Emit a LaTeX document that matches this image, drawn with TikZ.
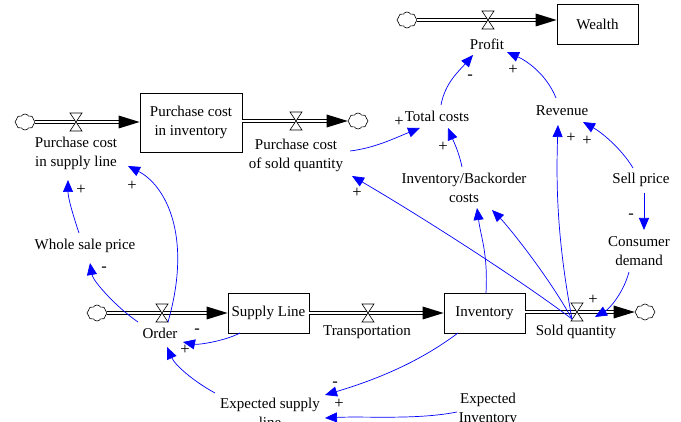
\documentclass[tikz,border=0pt]{standalone}
\usepackage{fontspec}
\setmainfont{Liberation Serif}
\usetikzlibrary{arrows.meta,shapes.symbols,calc}
\newcommand\flowarrow[2]{%
  \draw[pipe, shorten >=12pt] (#1) -- (#2);
  \fill (#2) -- ++(-21,-6.5) -- ++(0,13) -- cycle;}
\tikzset{
  lbl/.style={font=\fontsize{15}{19}\selectfont, align=center, inner sep=1pt},
  sign/.style={font=\fontsize{16.5}{16.5}\selectfont, inner sep=0pt},
  stock/.style={draw, line width=0.8pt, font=\fontsize{15}{19}\selectfont, align=center, inner sep=0pt},
  cloudn/.style={cloud, draw, fill=white, cloud puffs=8, cloud puff arc=120, aspect=1.25,
    minimum width=20pt, minimum height=16pt, inner sep=0pt, line width=0.6pt},
  pipe/.style={draw=black, line width=0.7pt, double=white, double distance=2.8pt},
  valve/.pic={\draw[line width=0.6pt, fill=white] (-6,-9) -- (6,-9) -- (-6,9) -- (6,9) -- cycle;},
  link/.style={draw=blue, line width=0.7pt, -{Triangle[length=12pt,width=10pt]}}
}
\begin{document}
\begin{tikzpicture}[x=1pt,y=-1pt]
\clip (0,0) rectangle (681,422);
\fill[white] (0,0) rectangle (681,422);
% stocks
\node[stock, minimum width=81pt, minimum height=40pt] (wealth) at (597.5,24) {Wealth};
\node[stock, minimum width=102pt, minimum height=59pt] (pci) at (191,122.5) {Purchase cost\\in inventory};
\node[stock, minimum width=81pt, minimum height=40pt] (sl) at (268.5,313) {Supply Line};
\node[stock, minimum width=81pt, minimum height=40pt] (inv) at (484.5,313) {Inventory};
% clouds
\node[cloudn] (c1) at (407,20) {};
\node[cloudn] (c2) at (25,122) {};
\node[cloudn] (c3) at (358,121) {};
\node[cloudn] (c4) at (97,313) {};
\node[cloudn] (c5) at (645,312) {};
% pipes
\flowarrow{c1.east}{c1 -| wealth.west}
\flowarrow{c2.east}{c2 -| pci.west}
\flowarrow{pci.east |- c3}{c3.west}
\flowarrow{c4.east}{c4 -| sl.west}
\flowarrow{sl.east}{inv.west}
\flowarrow{inv.east |- c5}{c5.west}
% valves
\coordinate (vp) at (488,20);
\coordinate (vpcsl) at (76,122);
\coordinate (vpcsq) at (296,121);
\coordinate (vord) at (162,313);
\coordinate (vtr) at (368,313);
\coordinate (vsq) at (577,312);
\foreach \v in {vp,vpcsl,vpcsq,vord,vtr,vsq} \pic at (\v) {valve};
% labels
\node[lbl] (profit) at (487,44) {Profit};
\node[lbl] (pcsl) at (76,153) {Purchase cost\\in supply line};
\node[lbl] (pcsq) at (296,155) {Purchase cost\\of sold quantity};
\node[lbl] (tc) at (437,116) {Total costs};
\node[lbl] (rev) at (562,111) {Revenue};
\node[lbl] (ibc) at (464,187.5) {Inventory/Backorder\\costs};
\node[lbl] (sp) at (641,180) {Sell price};
\node[lbl] (cd) at (639,251.5) {Consumer\\demand};
\node[lbl] (sq) at (576,332) {Sold quantity};
\node[lbl] (tr) at (367,332) {Transportation};
\node[lbl] (ord) at (160,333) {Order};
\node[lbl] (wsp) at (85,246) {Whole sale price};
\node[lbl] (esl) at (270,412.5) {Expected supply\\line};
\node[lbl] (ei) at (488,409) {Expected\\Inventory};
% links
\draw[link] ([shift={(4,-11)}]tc.center) .. controls +(4,-22) and +(-14,16) .. ([shift={(-14,11)}]profit.center);
\draw[link] ([shift={(-6,-13)}]rev.center) .. controls +(-10,-25) and +(18,8) .. ([shift={(20,8)}]profit.center);
\draw[link] ([shift={(54,-4)}]pcsq.center) .. controls +(25,-3) and +(-25,10) .. ([shift={(-17,12)}]tc.center);
\draw[link] ([shift={(-2,-20.5)}]ibc.center) .. controls +(-3,-15) and +(5,12) .. ([shift={(11,12)}]tc.center);
\draw[link] ([shift={(-5,7)}]vsq) .. controls +(-15,-80) and +(-2,60) .. ([shift={(-4,14)}]rev.center);
\draw[link] ([shift={(-8,-12)}]sp.center) .. controls +(-12,-20) and +(18,10) .. ([shift={(21,11)}]rev.center);
\draw[link] ([shift={(3,13)}]sp.center) -- ([shift={(5,-21.5)}]cd.center);
\draw[link] ([shift={(-10,20.5)}]cd.center) .. controls +(-6,22) and +(14,-8) .. ([shift={(19,-15)}]sq.center);
\draw[link] ([shift={(1.5,-20)}]inv.center) .. controls +(2,-40) and +(4,30) .. ([shift={(13,20.5)}]ibc.center);
\draw[link] ([shift={(-5,7)}]vsq) .. controls +(-25,-45) and +(15,15) .. ([shift={(28,22.5)}]ibc.center);
\draw[link] ([shift={(-5,7)}]vsq) .. controls +(-60,-45) and +(60,35) .. ([shift={(56,21)}]pcsq.center);
\draw[link] ([shift={(-6,-13)}]wsp.center) .. controls +(-6,-18) and +(0,18) .. ([shift={(-8,27)}]pcsl.center);
\draw[link] ([shift={(6,9)}]vord) .. controls +(25,-87) and +(37,19) .. ([shift={(52,13)}]pcsl.center);
\draw[link] ([shift={(-22,-11)}]ord.center) .. controls +(-22,-15) and +(3,18) .. ([shift={(5,17)}]wsp.center);
\draw[link] ([shift={(-28.5,20)}]sl.center) .. controls +(-15,8) and +(15,3) .. ([shift={(23,9)}]ord.center);
\draw[link] ([shift={(-55,-19.5)}]esl.center) .. controls +(-22,-12) and +(8,18) .. ([shift={(7,14)}]ord.center);
\draw[link] ([shift={(-26.5,20)}]inv.center) .. controls +(-40,30) and +(50,-15) .. ([shift={(55,-17.5)}]esl.center);
\draw[link] ([shift={(-31,3)}]ei.center) .. controls +(-40,8) and +(40,-2) .. ([shift={(55,5.5)}]esl.center);
% signs
\node[sign] (s1) at (470,77) {-};
\node[sign] (s2) at (513,70) {+};
\node[sign] (s3) at (399,122) {+};
\node[sign] (s4) at (443,147) {+};
\node[sign] (s5) at (571,138) {+};
\node[sign] (s6) at (587,141) {+};
\node[sign] (s7) at (631,216) {-};
\node[sign] (s8) at (593,300) {+};
\node[sign] (s9) at (357,193) {+};
\node[sign] (s10) at (81,190) {+};
\node[sign] (s11) at (132,186) {+};
\node[sign] (s12) at (104,269) {-};
\node[sign] (s13) at (197,331) {-};
\node[sign] (s14) at (185,350) {+};
\node[sign] (s15) at (335,384) {-};
\node[sign] (s16) at (339,404) {+};
\end{tikzpicture}
\end{document}
